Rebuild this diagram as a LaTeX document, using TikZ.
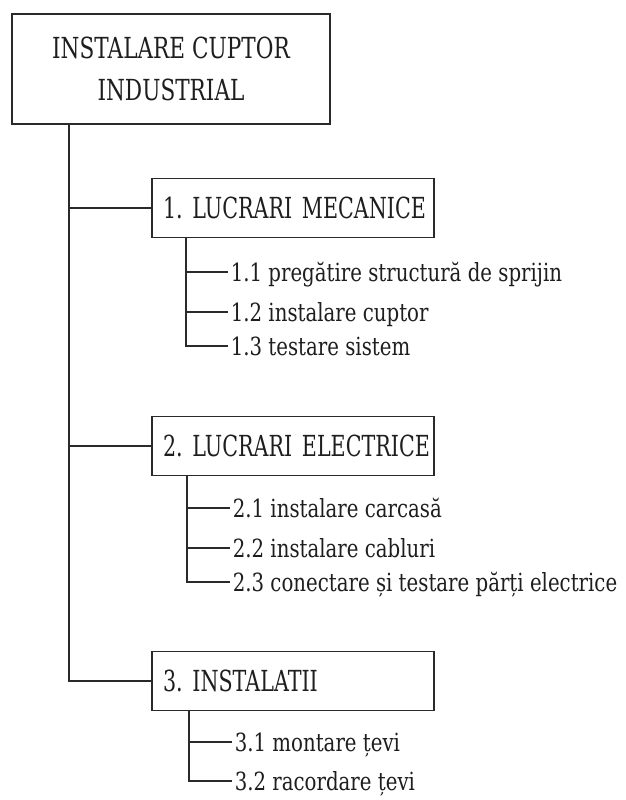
\documentclass[tikz,border=0pt]{standalone}
\usepackage{fontspec}
\setmainfont{DejaVu Serif}[FakeStretch=0.745]
\newfontfamily\secfont{DejaVu Serif}[FakeStretch=0.712]
\newfontfamily\itemfont{DejaVu Serif}[FakeStretch=0.79]
\definecolor{linec}{HTML}{2A2A2A}
\definecolor{textc}{HTML}{1E1E1E}
\frenchspacing
\begin{document}
\frenchspacing
\begin{tikzpicture}[x=1pt,y=-1pt,
  every path/.style={draw=linec, line width=1.6pt},
  mainbox/.style={draw=linec, line width=1.6pt, text=textc, minimum width=318pt, minimum height=110pt,
    align=center, inner sep=0pt, font=\fontsize{29}{42}\selectfont},
  secbox/.style={draw=linec, line width=1.6pt, text=textc, minimum height=59pt, text width=260pt,
    inner xsep=11pt, inner ysep=0pt, align=left, text height=21.5pt, text depth=0pt,
    font=\secfont\fontsize{29}{34}\selectfont},
  item/.style={anchor=west, text=textc, inner xsep=2pt, inner ysep=0pt, text height=18.5pt,
    text depth=0pt, font=\itemfont\fontsize{25}{30}\selectfont}
]
\useasboundingbox[fill=white,draw=none] (0,0) rectangle (625,800);

\node[mainbox] (top) at (171,69) {INSTALARE CUPTOR\\INDUSTRIAL};

\node[secbox] (s1) at (293,208) {\mbox{1. LUCRARI MECANICE}};
\node[secbox] (s2) at (293,446) {\mbox{2. LUCRARI ELECTRICE}};
\node[secbox] (s3) at (293,681) {\mbox{3. INSTALATII}};

\node[item] (i11) at (228,272) {1.1 pregătire structură de sprijin};
\node[item] (i12) at (228,312) {1.2 instalare cuptor};
\node[item] (i13) at (228,346) {1.3 testare sistem};

\node[item] (i21) at (230,508) {2.1 instalare carcasă};
\node[item] (i22) at (230,548) {2.2 instalare cabluri};
\node[item] (i23) at (230,582) {2.3 conectare și testare părți electrice};

\node[item] (i31) at (232,742) {3.1 montare țevi};
\node[item] (i32) at (232,781) {3.2 racordare țevi};

% main trunk
\coordinate (tr) at ([xshift=-102pt]top.south);
\draw (tr) |- (s3.west);
\draw (s1.west) -- (s1.west -| tr);
\draw (s2.west) -- (s2.west -| tr);

% sub trunks
\coordinate (k1) at ([xshift=-107pt]s1.south);
\draw (k1) |- (i13.west);
\draw (i11.west) -- (i11.west -| k1);
\draw (i12.west) -- (i12.west -| k1);

\coordinate (k2) at ([xshift=-106pt]s2.south);
\draw (k2) |- (i23.west);
\draw (i21.west) -- (i21.west -| k2);
\draw (i22.west) -- (i22.west -| k2);

\coordinate (k3) at ([xshift=-104pt]s3.south);
\draw (k3) |- (i32.west);
\draw (i31.west) -- (i31.west -| k3);
\end{tikzpicture}
\end{document}
